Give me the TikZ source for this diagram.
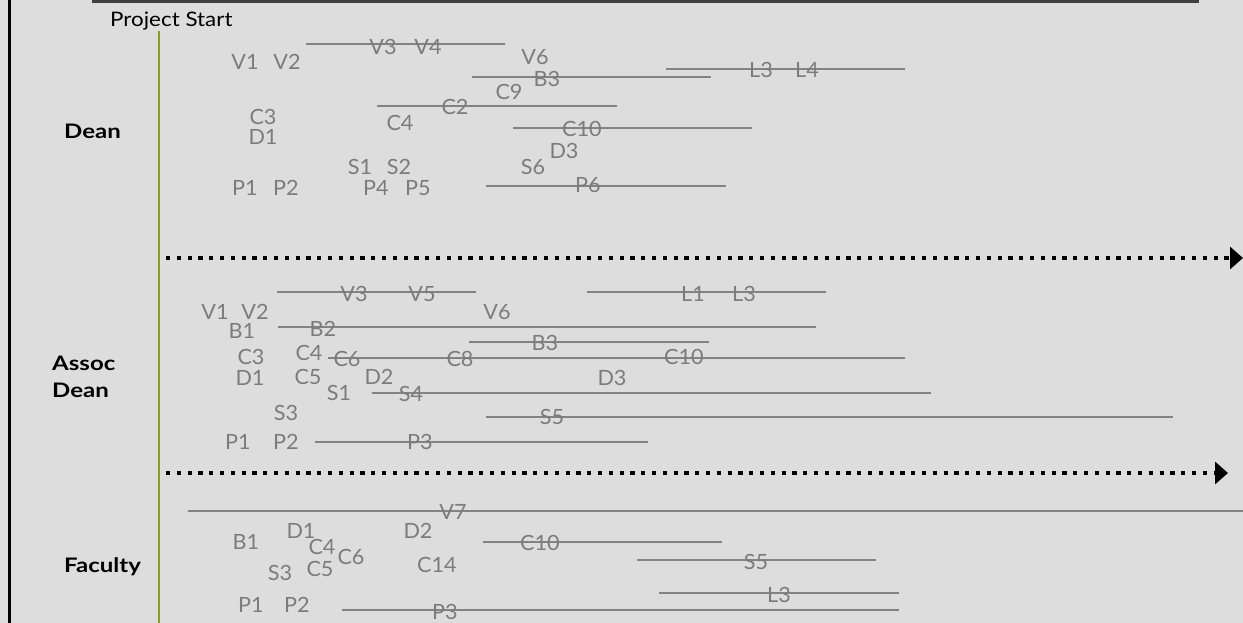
\documentclass[tikz,border=0pt]{standalone}
\usepackage{fontspec}
\setmainfont{Lato}
\newfontfamily\lanefont[FakeStretch=1.2]{Lato}
\newfontfamily\startfont[FakeStretch=1.12]{Lato}
\newfontfamily\lblfont[FakeStretch=1.03]{Lato}
\usetikzlibrary{arrows.meta}
\definecolor{bgc}{HTML}{DDDDDD}
\definecolor{lblgray}{HTML}{7C7C7C}
\definecolor{bargray}{HTML}{838383}
\definecolor{olivec}{RGB}{139,154,43}
\definecolor{toplinec}{HTML}{404040}
\begin{document}
\begin{tikzpicture}[x=1pt,y=-1pt,
  lbl/.style={text=lblgray, font=\lblfont\fontsize{21}{21}\selectfont, inner sep=0pt},
  lane/.style={text=black, font=\lanefont\bfseries\fontsize{20}{27}\selectfont, inner sep=0pt, anchor=west, align=left},
  bar/.style={draw=bargray, line width=2.8pt},
  dotarrow/.style={draw=black, line width=4.2pt, dash pattern=on 4.2pt off 6.6pt, -{Triangle[length=13pt,width=22pt]}}]
\fill[bgc] (0,0) rectangle (1243,623);
\useasboundingbox (0,0) rectangle (1243,623);
% frame lines
\draw[black, line width=3pt] (9.5,0) -- (9.5,623);
\draw[toplinec, line width=2.8pt] (92,1.2) -- (1199,1.2);
\draw[olivec, line width=2.5pt] (159,31) -- (159,623);
\node[anchor=base west, inner sep=0pt, font=\startfont\fontsize{20}{20}\selectfont] (start) at (110,27) {Project Start};
% lanes
\node[lane] (dean) at (64,131) {Dean};
\node[lane] (assoc) at (52,377) {Assoc\\Dean};
\node[lane] (fac) at (64,567) {Faculty};
% separators
\coordinate (s1a) at (166,258); \coordinate (s1b) at (1243,258);
\coordinate (s2a) at (166,473); \coordinate (s2b) at (1228,473);
\draw[dotarrow] (s1a) -- (s1b);
\draw[dotarrow] (s2a) -- (s2b);
% ---------------- Dean ----------------
\draw[bar] (306,44) -- (505,44);
\draw[bar] (472,77) -- (711,77);
\draw[bar] (666,69) -- (905,69);
\draw[bar] (377,106) -- (617,106);
\draw[bar] (513,128) -- (752,128);
\draw[bar] (486,186) -- (726,186);
\node[lbl] (d-v3) at (383,47) {V3};
\node[lbl] (d-v4) at (428,47) {V4};
\node[lbl] (d-v1) at (245,62) {V1};
\node[lbl] (d-v2) at (287,62) {V2};
\node[lbl] (d-v6) at (535,57) {V6};
\node[lbl] (d-b3) at (547,79) {B3};
\node[lbl] (d-l3) at (761,70) {L3};
\node[lbl] (d-l4) at (807,70) {L4};
\node[lbl] (d-c9) at (509,92) {C9};
\node[lbl] (d-c2) at (455,107) {C2};
\node[lbl] (d-c3) at (263,117) {C3};
\node[lbl] (d-d1) at (263,137) {D1};
\node[lbl] (d-c4) at (400,123) {C4};
\node[lbl] (d-c10) at (582,129) {C10};
\node[lbl] (d-d3) at (564,151) {D3};
\node[lbl] (d-s6) at (533,167) {S6};
\node[lbl] (d-s1) at (360,167) {S1};
\node[lbl] (d-s2) at (399,167) {S2};
\node[lbl] (d-p1) at (245,188) {P1};
\node[lbl] (d-p2) at (286,188) {P2};
\node[lbl] (d-p4) at (376,188) {P4};
\node[lbl] (d-p5) at (418,188) {P5};
\node[lbl] (d-p6) at (588,185) {P6};
% ---------------- Assoc Dean ----------------
\draw[bar] (277,292) -- (476,292);
\draw[bar] (587,292) -- (826,292);
\draw[bar] (278,327) -- (816,327);
\draw[bar] (469,342) -- (709,342);
\draw[bar] (328,358) -- (905,358);
\draw[bar] (372,393) -- (931,393);
\draw[bar] (486,417) -- (1173,417);
\draw[bar] (315,442) -- (648,442);
\node[lbl] (a-v3) at (354,294) {V3};
\node[lbl] (a-v5) at (422,294) {V5};
\node[lbl] (a-l1) at (693,294) {L1};
\node[lbl] (a-l3) at (744,294) {L3};
\node[lbl] (a-v1) at (215,312) {V1};
\node[lbl] (a-v2) at (255,312) {V2};
\node[lbl] (a-v6) at (497,312) {V6};
\node[lbl] (a-b1) at (242,331) {B1};
\node[lbl] (a-b2) at (323,329) {B2};
\node[lbl] (a-b3) at (545,343) {B3};
\node[lbl] (a-c3) at (251,357) {C3};
\node[lbl] (a-c4) at (309,353) {C4};
\node[lbl] (a-c6) at (347,359) {C6};
\node[lbl] (a-c8) at (460,359) {C8};
\node[lbl] (a-c10) at (684,357) {C10};
\node[lbl] (a-d1) at (250,378) {D1};
\node[lbl] (a-c5) at (308,377) {C5};
\node[lbl] (a-d2) at (379,377) {D2};
\node[lbl] (a-d3) at (612,378) {D3};
\node[lbl] (a-s1) at (339,393) {S1};
\node[lbl] (a-s4) at (411,394) {S4};
\node[lbl] (a-s3) at (286,413) {S3};
\node[lbl] (a-s5) at (552,417) {S5};
\node[lbl] (a-p1) at (238,442) {P1};
\node[lbl] (a-p2) at (286,442) {P2};
\node[lbl] (a-p3) at (420,442) {P3};
% ---------------- Faculty ----------------
\draw[bar] (188,511) -- (1243,511);
\draw[bar] (483,542) -- (722,542);
\draw[bar] (637,560) -- (876,560);
\draw[bar] (659,593) -- (899,593);
\draw[bar] (342,610) -- (899,610);
\node[lbl] (f-v7) at (453,512) {V7};
\node[lbl] (f-b1) at (246,542) {B1};
\node[lbl] (f-d1) at (301,531) {D1};
\node[lbl] (f-c4) at (322,547) {C4};
\node[lbl] (f-c6) at (351,557) {C6};
\node[lbl] (f-s3) at (280,573) {S3};
\node[lbl] (f-c5) at (320,569) {C5};
\node[lbl] (f-d2) at (418,531) {D2};
\node[lbl] (f-c14) at (437,565) {C14};
\node[lbl] (f-c10) at (540,543) {C10};
\node[lbl] (f-s5) at (756,562) {S5};
\node[lbl] (f-l3) at (779,595) {L3};
\node[lbl] (f-p1) at (251,605) {P1};
\node[lbl] (f-p2) at (297,605) {P2};
\node[lbl] (f-p3) at (445,612) {P3};
\end{tikzpicture}
\end{document}
